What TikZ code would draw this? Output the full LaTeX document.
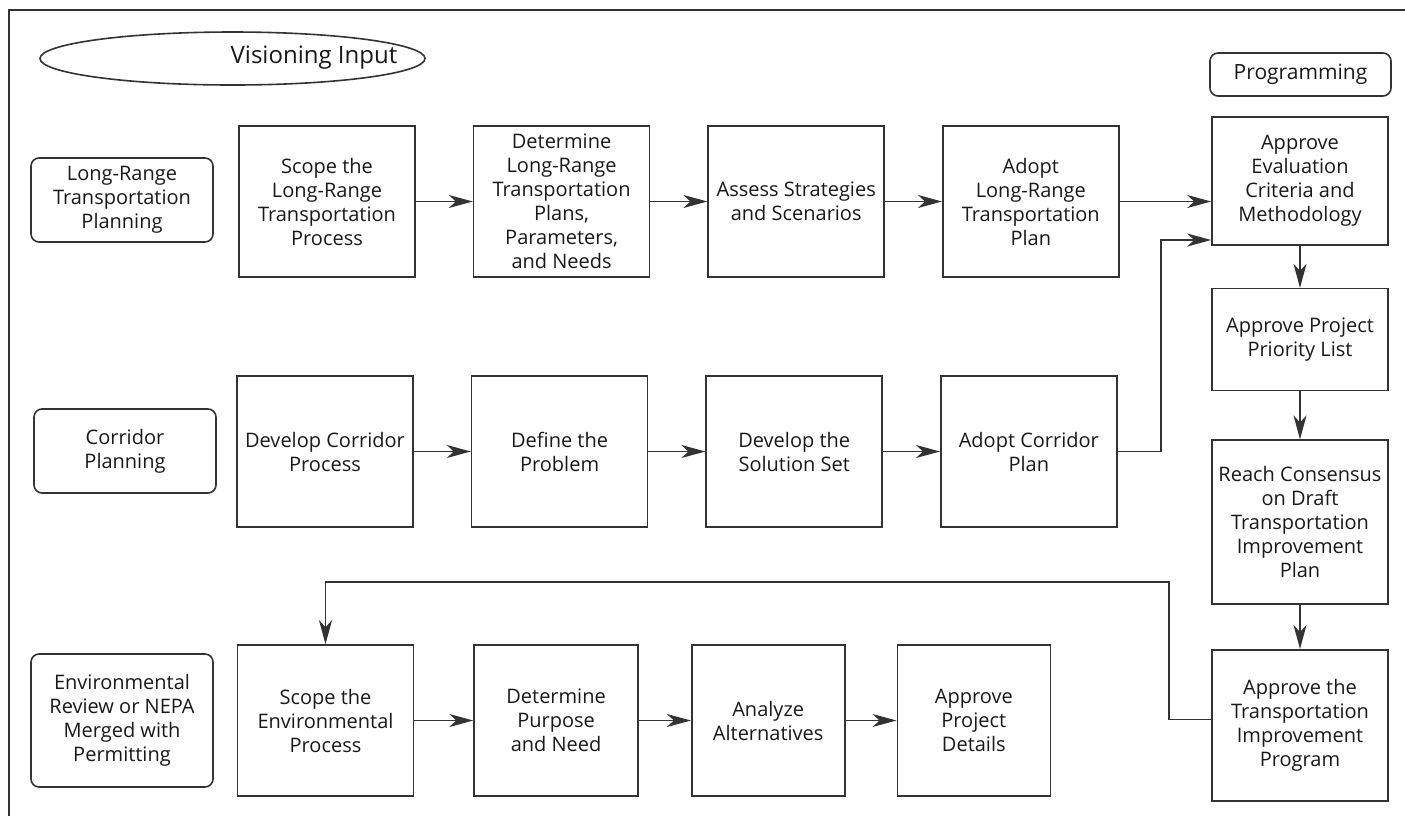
\documentclass[tikz,border=0pt]{standalone}
\usepackage{fontspec}
\setmainfont{Open Sans}
\usepackage{tikz}
\usetikzlibrary{positioning, arrows.meta, shapes.geometric}

\begin{document}
\begin{tikzpicture}[x=0.5pt, y=-0.5pt, node distance=28.5pt,
  font=\fontsize{10}{12}\selectfont,
  every node/.style={text=black!90},
  stepbox/.style={draw=black!80, line width=0.8pt, rectangle, minimum width=88pt, minimum height=75.5pt, align=center, inner sep=1pt},
  lanebox/.style={draw=black!80, line width=0.8pt, rectangle, rounded corners=4pt, minimum width=91pt, minimum height=42pt, align=center},
  flow/.style={-{Stealth[length=12pt, width=6.5pt, inset=3.5pt]}, line width=0.8pt, draw=black!80}]
\useasboundingbox (0,0) rectangle (1405,816);
\draw[line width=0.8pt, black!80] (9,816) |- (1405,10);

% headers and lanes
\node (vision) [draw=black!80, line width=0.8pt, ellipse, minimum width=192.5pt, minimum height=26.5pt] at (232.5,58.5) {};
\node (visiontext) [font=\fontsize{12}{14}\selectfont] at (314,58) {Visioning Input};
\node (programming) [lanebox, minimum width=90.5pt, minimum height=21.5pt, font=\fontsize{10.5}{12}\selectfont] at (1300.5,74.5) {Programming};

\node (lrtp) [lanebox] at (122,200) {Long-Range\\Transportation\\Planning};
\node (corplan) [lanebox] at (125,451) {Corridor\\Planning};
\node (envrev) [lanebox, minimum height=66.5pt] at (122,720.5) {Environmental\\Review or NEPA\\Merged with\\Permitting};

% long-range row
\node (scopelr) [stepbox] at (327,201.5) {Scope the\\Long-Range\\Transportation\\Process};
\node (determinelr) [stepbox, right=of scopelr] {Determine\\Long-Range\\Transportation\\Plans,\\Parameters,\\and Needs};
\node (assess) [stepbox, right=of determinelr] {Assess Strategies\\and Scenarios};
\node (adoptlr) [stepbox, right=of assess] {Adopt\\Long-Range\\Transportation\\Plan};

% corridor row
\node (devcor) [stepbox] at (325,451.5) {Develop Corridor\\Process};
\node (defprob) [stepbox, right=of devcor] {Define the\\Problem};
\node (devsol) [stepbox, right=of defprob] {Develop the\\Solution Set};
\node (adoptcor) [stepbox, right=of devsol] {Adopt Corridor\\Plan};

% environmental row
\node (scopeenv) [stepbox] at (325.5,720.5) {Scope the\\Environmental\\Process};
\node (purpose) [stepbox, minimum width=82pt, right=29.5pt of scopeenv] {Determine\\Purpose\\and Need};
\node (analyze) [stepbox, minimum width=76.5pt, right=26pt of purpose] {Analyze\\Alternatives};
\node (details) [stepbox, minimum width=76.5pt, right=25.5pt of analyze] {Approve\\Project\\Details};

% programming column
\node (evalcrit) [stepbox, minimum height=64pt] at (1300,181) {Approve\\Evaluation\\Criteria and\\Methodology};
\node (priority) [stepbox, minimum height=51pt, below=21pt of evalcrit] {Approve Project\\Priority List};
\node (consensus) [stepbox, minimum height=82pt, below=24pt of priority] {Reach Consensus\\on Draft\\Transportation\\Improvement\\Plan};
\node (approvetip) [stepbox, below=22pt of consensus] {Approve the\\Transportation\\Improvement\\Program};

\coordinate (corbend) at (1161,240);
\coordinate (tipbend) at (1169,582);

\draw[flow] (scopelr) -- (determinelr);
\draw[flow] (determinelr) -- (assess);
\draw[flow] (assess) -- (adoptlr);
\draw[flow] (adoptlr.east) -- (adoptlr.east -| evalcrit.west);

\draw[flow] (devcor) -- (defprob);
\draw[flow] (defprob) -- (devsol);
\draw[flow] (devsol) -- (adoptcor);
\draw[flow] (adoptcor.east) -| (corbend) -- (corbend -| evalcrit.west);

\draw[flow] (evalcrit) -- (priority);
\draw[flow] (priority) -- (consensus);
\draw[flow] (consensus) -- (approvetip);
\draw[flow] ([yshift=3pt]approvetip.west) -| (tipbend) -| (scopeenv.north);

\draw[flow] (scopeenv) -- (purpose);
\draw[flow] (purpose) -- (analyze);
\draw[flow] (analyze) -- (details);
\end{tikzpicture}
\end{document}
